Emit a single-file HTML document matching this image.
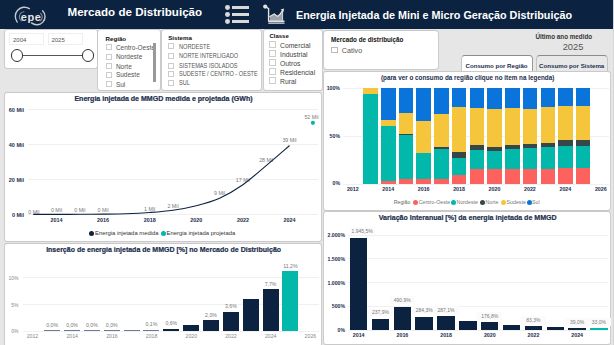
<!DOCTYPE html>
<html><head><meta charset="utf-8"><style>
html,body{margin:0;padding:0;}
body{width:614px;height:345px;overflow:hidden;position:relative;background:#e6e6e6;font-family:"Liberation Sans", sans-serif;}
</style></head><body>
<div style="position:absolute;left:612.60px;top:0.00px;width:1.40px;height:345.00px;background:#d6d6d6;"></div>
<div style="position:absolute;left:0.00px;top:0.00px;width:612.60px;height:28.50px;background:#0b2341;"></div>
<div style="position:absolute;left:5.00px;top:30.30px;width:91.50px;height:37.70px;background:#fff;border-radius:2px;box-shadow:0 0 0 0.9px #c9c9c9;"></div>
<div style="position:absolute;left:9.40px;top:33.40px;width:34.80px;height:11.90px;background:#fff;border:1px solid #efefef;box-sizing:border-box;"></div>
<div style="position:absolute;left:48.00px;top:33.40px;width:35.20px;height:11.90px;background:#fff;border:1px solid #efefef;box-sizing:border-box;"></div>
<div style="position:absolute;left:13.00px;top:36.66px;font-size:6.0px;line-height:6.0px;font-weight:normal;color:#555;white-space:nowrap;">2004</div>
<div style="position:absolute;left:51.40px;top:36.66px;font-size:6.0px;line-height:6.0px;font-weight:normal;color:#555;white-space:nowrap;">2025</div>
<div style="position:absolute;left:22.00px;top:54.80px;width:61.00px;height:1.20px;background:#555;"></div>
<div style="position:absolute;left:10.80px;top:49.20px;width:12.40px;height:12.40px;background:#fff;border:1px solid #333;border-radius:50%;box-sizing:border-box;"></div>
<div style="position:absolute;left:82.10px;top:49.20px;width:12.40px;height:12.40px;background:#fff;border:1px solid #333;border-radius:50%;box-sizing:border-box;"></div>
<div style="position:absolute;left:98.40px;top:30.20px;width:61.60px;height:59.80px;background:#fff;border-radius:2px;box-shadow:0 0 0 0.9px #c9c9c9;"></div>
<div style="position:absolute;left:105.50px;top:36.16px;font-size:6.2px;line-height:6.2px;font-weight:bold;color:#111;white-space:nowrap;">Região</div>
<div style="position:absolute;left:105.50px;top:44.20px;width:6.20px;height:6.20px;border:0.8px solid #cdcdcd;box-sizing:border-box;background:#fff;"></div>
<div style="position:absolute;left:115.90px;top:44.81px;font-size:6.5px;line-height:6.5px;font-weight:normal;color:#555;white-space:nowrap;width:37px;overflow:hidden;">Centro-Oeste</div>
<div style="position:absolute;left:105.50px;top:53.70px;width:6.20px;height:6.20px;border:0.8px solid #cdcdcd;box-sizing:border-box;background:#fff;"></div>
<div style="position:absolute;left:115.90px;top:54.31px;font-size:6.5px;line-height:6.5px;font-weight:normal;color:#555;white-space:nowrap;width:37px;overflow:hidden;">Nordeste</div>
<div style="position:absolute;left:105.50px;top:62.90px;width:6.20px;height:6.20px;border:0.8px solid #cdcdcd;box-sizing:border-box;background:#fff;"></div>
<div style="position:absolute;left:115.90px;top:63.52px;font-size:6.5px;line-height:6.5px;font-weight:normal;color:#555;white-space:nowrap;width:37px;overflow:hidden;">Norte</div>
<div style="position:absolute;left:105.50px;top:71.60px;width:6.20px;height:6.20px;border:0.8px solid #cdcdcd;box-sizing:border-box;background:#fff;"></div>
<div style="position:absolute;left:115.90px;top:72.22px;font-size:6.5px;line-height:6.5px;font-weight:normal;color:#555;white-space:nowrap;width:37px;overflow:hidden;">Sudeste</div>
<div style="position:absolute;left:105.50px;top:81.10px;width:6.20px;height:6.20px;border:0.8px solid #cdcdcd;box-sizing:border-box;background:#fff;"></div>
<div style="position:absolute;left:115.90px;top:81.72px;font-size:6.5px;line-height:6.5px;font-weight:normal;color:#555;white-space:nowrap;width:37px;overflow:hidden;">Sul</div>
<div style="position:absolute;left:152.70px;top:43.30px;width:3.40px;height:39.00px;background:#999;"></div>
<div style="position:absolute;left:162.10px;top:30.20px;width:99.40px;height:59.80px;background:#fff;border-radius:2px;box-shadow:0 0 0 0.9px #c9c9c9;"></div>
<div style="position:absolute;left:168.20px;top:35.16px;font-size:6.2px;line-height:6.2px;font-weight:bold;color:#111;white-space:nowrap;">Sistema</div>
<div style="position:absolute;left:168.20px;top:43.20px;width:6.20px;height:6.20px;border:0.8px solid #cdcdcd;box-sizing:border-box;background:#fff;"></div>
<div style="position:absolute;left:178.70px;top:43.77px;font-size:6.6px;line-height:6.6px;font-weight:normal;color:#555;white-space:nowrap;transform:scaleX(0.85);transform-origin:0 50%;">NORDESTE</div>
<div style="position:absolute;left:168.20px;top:52.70px;width:6.20px;height:6.20px;border:0.8px solid #cdcdcd;box-sizing:border-box;background:#fff;"></div>
<div style="position:absolute;left:178.70px;top:53.27px;font-size:6.6px;line-height:6.6px;font-weight:normal;color:#555;white-space:nowrap;transform:scaleX(0.85);transform-origin:0 50%;">NORTE INTERLIGADO</div>
<div style="position:absolute;left:168.20px;top:62.50px;width:6.20px;height:6.20px;border:0.8px solid #cdcdcd;box-sizing:border-box;background:#fff;"></div>
<div style="position:absolute;left:178.70px;top:63.07px;font-size:6.6px;line-height:6.6px;font-weight:normal;color:#555;white-space:nowrap;transform:scaleX(0.85);transform-origin:0 50%;">SISTEMAS ISOLADOS</div>
<div style="position:absolute;left:168.20px;top:70.60px;width:6.20px;height:6.20px;border:0.8px solid #cdcdcd;box-sizing:border-box;background:#fff;"></div>
<div style="position:absolute;left:178.70px;top:71.17px;font-size:6.6px;line-height:6.6px;font-weight:normal;color:#555;white-space:nowrap;transform:scaleX(0.85);transform-origin:0 50%;">SUDESTE / CENTRO - OESTE</div>
<div style="position:absolute;left:168.20px;top:79.70px;width:6.20px;height:6.20px;border:0.8px solid #cdcdcd;box-sizing:border-box;background:#fff;"></div>
<div style="position:absolute;left:178.70px;top:80.27px;font-size:6.6px;line-height:6.6px;font-weight:normal;color:#555;white-space:nowrap;transform:scaleX(0.85);transform-origin:0 50%;">SUL</div>
<div style="position:absolute;left:264.10px;top:30.20px;width:57.50px;height:60.20px;background:#fff;border-radius:2px;box-shadow:0 0 0 0.9px #c9c9c9;"></div>
<div style="position:absolute;left:269.40px;top:32.86px;font-size:6.0px;line-height:6.0px;font-weight:bold;color:#111;white-space:nowrap;">Classe</div>
<div style="position:absolute;left:269.40px;top:41.10px;width:7.00px;height:7.00px;border:0.8px solid #cdcdcd;box-sizing:border-box;background:#fff;"></div>
<div style="position:absolute;left:280.00px;top:41.97px;font-size:6.8px;line-height:6.8px;font-weight:normal;color:#444;white-space:nowrap;transform:translateY(0.6px);">Comercial</div>
<div style="position:absolute;left:269.40px;top:50.20px;width:7.00px;height:7.00px;border:0.8px solid #cdcdcd;box-sizing:border-box;background:#fff;"></div>
<div style="position:absolute;left:280.00px;top:51.07px;font-size:6.8px;line-height:6.8px;font-weight:normal;color:#444;white-space:nowrap;transform:translateY(0.6px);">Industrial</div>
<div style="position:absolute;left:269.40px;top:59.00px;width:7.00px;height:7.00px;border:0.8px solid #cdcdcd;box-sizing:border-box;background:#fff;"></div>
<div style="position:absolute;left:280.00px;top:59.87px;font-size:6.8px;line-height:6.8px;font-weight:normal;color:#444;white-space:nowrap;transform:translateY(0.6px);">Outros</div>
<div style="position:absolute;left:269.40px;top:68.10px;width:7.00px;height:7.00px;border:0.8px solid #cdcdcd;box-sizing:border-box;background:#fff;"></div>
<div style="position:absolute;left:280.00px;top:68.97px;font-size:6.8px;line-height:6.8px;font-weight:normal;color:#444;white-space:nowrap;transform:translateY(0.6px);">Residencial</div>
<div style="position:absolute;left:269.40px;top:77.00px;width:7.00px;height:7.00px;border:0.8px solid #cdcdcd;box-sizing:border-box;background:#fff;"></div>
<div style="position:absolute;left:280.00px;top:77.87px;font-size:6.8px;line-height:6.8px;font-weight:normal;color:#444;white-space:nowrap;transform:translateY(0.6px);">Rural</div>
<div style="position:absolute;left:323.60px;top:31.40px;width:114.20px;height:38.10px;background:#fff;border-radius:3px;box-shadow:0 0 0 0.9px #c9c9c9;"></div>
<div style="position:absolute;left:331.00px;top:36.71px;font-size:6.3px;line-height:6.3px;font-weight:bold;color:#111;white-space:nowrap;">Mercado de distribuição</div>
<div style="position:absolute;left:331.00px;top:46.80px;width:7.00px;height:6.20px;border:0.8px solid #bbb;box-sizing:border-box;background:#fff;"></div>
<div style="position:absolute;left:341.80px;top:46.67px;font-size:7.2px;line-height:7.2px;font-weight:normal;color:#555;white-space:nowrap;">Cativo</div>
<div style="position:absolute;left:263.80px;width:600px;top:33.71px;font-size:6.3px;line-height:6.3px;font-weight:bold;color:#333;white-space:nowrap;text-align:center;">Último ano medido</div>
<div style="position:absolute;left:273.00px;width:600px;top:43.34px;font-size:9.3px;line-height:9.3px;font-weight:normal;color:#555;white-space:nowrap;text-align:center;">2025</div>
<div style="position:absolute;left:535.90px;top:55.30px;width:72.40px;height:17.70px;background:#e8e8e8;border:1px solid #c4c4c4;border-top-color:#8c8c8c;border-bottom:none;border-radius:4px 4px 0 0;box-sizing:border-box;"></div>
<div style="position:absolute;left:460.90px;top:55.20px;width:72.50px;height:17.80px;background:#fff;border:1px solid #c4c4c4;border-top-color:#8c8c8c;border-right-color:#9a9a9a;border-bottom:none;border-radius:4px 4px 0 0;box-sizing:border-box;"></div>
<div style="position:absolute;left:196.50px;width:600px;top:63.09px;font-size:6.15px;line-height:6.15px;font-weight:bold;color:#1c2e4d;white-space:nowrap;text-align:center;">Consumo por Região</div>
<div style="position:absolute;left:271.70px;width:600px;top:63.09px;font-size:6.15px;line-height:6.15px;font-weight:bold;color:#1c2e4d;white-space:nowrap;text-align:center;">Consumo por Sistema</div>
<div style="position:absolute;left:323.60px;top:71.60px;width:286.30px;height:138.30px;background:#fff;border-radius:2px;box-shadow:0 0 0 0.9px #c9c9c9;"></div>
<div style="position:absolute;left:167.60px;width:600px;top:74.50px;font-size:6.33px;line-height:6.33px;font-weight:bold;color:#1c2e4d;white-space:nowrap;text-align:center;">(para ver o consumo da região clique no item na legenda)</div>
<div style="position:absolute;left:-260.00px;width:600px;top:85.75px;font-size:5.2px;line-height:5.2px;font-weight:bold;color:#1c2e4d;white-space:nowrap;text-align:right;">100%</div>
<div style="position:absolute;left:343.00px;top:87.90px;width:265.60px;height:0.80px;background:#f0f0f0;"></div>
<div style="position:absolute;left:-260.00px;width:600px;top:133.60px;font-size:5.2px;line-height:5.2px;font-weight:bold;color:#1c2e4d;white-space:nowrap;text-align:right;">50%</div>
<div style="position:absolute;left:343.00px;top:135.75px;width:265.60px;height:0.80px;background:#f0f0f0;"></div>
<div style="position:absolute;left:-260.00px;width:600px;top:181.45px;font-size:5.2px;line-height:5.2px;font-weight:bold;color:#1c2e4d;white-space:nowrap;text-align:right;">0%</div>
<div style="position:absolute;left:343.00px;top:183.60px;width:265.60px;height:0.80px;background:#f0f0f0;"></div>
<div style="position:absolute;left:363.30px;top:88.30px;width:14.50px;height:95.70px;background:#0a74da;"></div>
<div style="position:absolute;left:363.30px;top:88.30px;width:14.50px;height:95.70px;background:#f5c63c;"></div>
<div style="position:absolute;left:363.30px;top:93.60px;width:14.50px;height:90.40px;background:#374649;"></div>
<div style="position:absolute;left:363.30px;top:93.60px;width:14.50px;height:90.40px;background:#01b8aa;"></div>
<div style="position:absolute;left:363.30px;top:184.00px;width:14.50px;height:0.00px;background:#fd625e;"></div>
<div style="position:absolute;left:381.02px;top:88.30px;width:14.50px;height:95.70px;background:#0a74da;"></div>
<div style="position:absolute;left:381.02px;top:120.00px;width:14.50px;height:64.00px;background:#f5c63c;"></div>
<div style="position:absolute;left:381.02px;top:126.20px;width:14.50px;height:57.80px;background:#374649;"></div>
<div style="position:absolute;left:381.02px;top:126.20px;width:14.50px;height:57.80px;background:#01b8aa;"></div>
<div style="position:absolute;left:381.02px;top:180.70px;width:14.50px;height:3.30px;background:#fd625e;"></div>
<div style="position:absolute;left:398.74px;top:88.30px;width:14.50px;height:95.70px;background:#0a74da;"></div>
<div style="position:absolute;left:398.74px;top:112.80px;width:14.50px;height:71.20px;background:#f5c63c;"></div>
<div style="position:absolute;left:398.74px;top:133.50px;width:14.50px;height:50.50px;background:#374649;"></div>
<div style="position:absolute;left:398.74px;top:134.70px;width:14.50px;height:49.30px;background:#01b8aa;"></div>
<div style="position:absolute;left:398.74px;top:179.00px;width:14.50px;height:5.00px;background:#fd625e;"></div>
<div style="position:absolute;left:416.46px;top:88.30px;width:14.50px;height:95.70px;background:#0a74da;"></div>
<div style="position:absolute;left:416.46px;top:120.60px;width:14.50px;height:63.40px;background:#f5c63c;"></div>
<div style="position:absolute;left:416.46px;top:152.90px;width:14.50px;height:31.10px;background:#374649;"></div>
<div style="position:absolute;left:416.46px;top:152.90px;width:14.50px;height:31.10px;background:#01b8aa;"></div>
<div style="position:absolute;left:416.46px;top:178.80px;width:14.50px;height:5.20px;background:#fd625e;"></div>
<div style="position:absolute;left:434.18px;top:88.30px;width:14.50px;height:95.70px;background:#0a74da;"></div>
<div style="position:absolute;left:434.18px;top:113.90px;width:14.50px;height:70.10px;background:#f5c63c;"></div>
<div style="position:absolute;left:434.18px;top:146.80px;width:14.50px;height:37.20px;background:#374649;"></div>
<div style="position:absolute;left:434.18px;top:148.90px;width:14.50px;height:35.10px;background:#01b8aa;"></div>
<div style="position:absolute;left:434.18px;top:178.80px;width:14.50px;height:5.20px;background:#fd625e;"></div>
<div style="position:absolute;left:451.90px;top:88.30px;width:14.50px;height:95.70px;background:#0a74da;"></div>
<div style="position:absolute;left:451.90px;top:106.70px;width:14.50px;height:77.30px;background:#f5c63c;"></div>
<div style="position:absolute;left:451.90px;top:151.90px;width:14.50px;height:32.10px;background:#374649;"></div>
<div style="position:absolute;left:451.90px;top:157.60px;width:14.50px;height:26.40px;background:#01b8aa;"></div>
<div style="position:absolute;left:451.90px;top:175.00px;width:14.50px;height:9.00px;background:#fd625e;"></div>
<div style="position:absolute;left:469.62px;top:88.30px;width:14.50px;height:95.70px;background:#0a74da;"></div>
<div style="position:absolute;left:469.62px;top:108.30px;width:14.50px;height:75.70px;background:#f5c63c;"></div>
<div style="position:absolute;left:469.62px;top:145.40px;width:14.50px;height:38.60px;background:#374649;"></div>
<div style="position:absolute;left:469.62px;top:149.80px;width:14.50px;height:34.20px;background:#01b8aa;"></div>
<div style="position:absolute;left:469.62px;top:168.90px;width:14.50px;height:15.10px;background:#fd625e;"></div>
<div style="position:absolute;left:487.34px;top:88.30px;width:14.50px;height:95.70px;background:#0a74da;"></div>
<div style="position:absolute;left:487.34px;top:109.40px;width:14.50px;height:74.60px;background:#f5c63c;"></div>
<div style="position:absolute;left:487.34px;top:146.80px;width:14.50px;height:37.20px;background:#374649;"></div>
<div style="position:absolute;left:487.34px;top:151.00px;width:14.50px;height:33.00px;background:#01b8aa;"></div>
<div style="position:absolute;left:487.34px;top:168.90px;width:14.50px;height:15.10px;background:#fd625e;"></div>
<div style="position:absolute;left:505.06px;top:88.30px;width:14.50px;height:95.70px;background:#0a74da;"></div>
<div style="position:absolute;left:505.06px;top:108.30px;width:14.50px;height:75.70px;background:#f5c63c;"></div>
<div style="position:absolute;left:505.06px;top:144.90px;width:14.50px;height:39.10px;background:#374649;"></div>
<div style="position:absolute;left:505.06px;top:149.30px;width:14.50px;height:34.70px;background:#01b8aa;"></div>
<div style="position:absolute;left:505.06px;top:168.90px;width:14.50px;height:15.10px;background:#fd625e;"></div>
<div style="position:absolute;left:522.78px;top:88.30px;width:14.50px;height:95.70px;background:#0a74da;"></div>
<div style="position:absolute;left:522.78px;top:109.40px;width:14.50px;height:74.60px;background:#f5c63c;"></div>
<div style="position:absolute;left:522.78px;top:144.00px;width:14.50px;height:40.00px;background:#374649;"></div>
<div style="position:absolute;left:522.78px;top:148.40px;width:14.50px;height:35.60px;background:#01b8aa;"></div>
<div style="position:absolute;left:522.78px;top:168.90px;width:14.50px;height:15.10px;background:#fd625e;"></div>
<div style="position:absolute;left:540.50px;top:88.30px;width:14.50px;height:95.70px;background:#0a74da;"></div>
<div style="position:absolute;left:540.50px;top:107.20px;width:14.50px;height:76.80px;background:#f5c63c;"></div>
<div style="position:absolute;left:540.50px;top:142.50px;width:14.50px;height:41.50px;background:#374649;"></div>
<div style="position:absolute;left:540.50px;top:147.20px;width:14.50px;height:36.80px;background:#01b8aa;"></div>
<div style="position:absolute;left:540.50px;top:169.10px;width:14.50px;height:14.90px;background:#fd625e;"></div>
<div style="position:absolute;left:558.22px;top:88.30px;width:14.50px;height:95.70px;background:#0a74da;"></div>
<div style="position:absolute;left:558.22px;top:105.90px;width:14.50px;height:78.10px;background:#f5c63c;"></div>
<div style="position:absolute;left:558.22px;top:140.20px;width:14.50px;height:43.80px;background:#374649;"></div>
<div style="position:absolute;left:558.22px;top:146.00px;width:14.50px;height:38.00px;background:#01b8aa;"></div>
<div style="position:absolute;left:558.22px;top:168.40px;width:14.50px;height:15.60px;background:#fd625e;"></div>
<div style="position:absolute;left:575.94px;top:88.30px;width:14.50px;height:95.70px;background:#0a74da;"></div>
<div style="position:absolute;left:575.94px;top:105.90px;width:14.50px;height:78.10px;background:#f5c63c;"></div>
<div style="position:absolute;left:575.94px;top:139.60px;width:14.50px;height:44.40px;background:#374649;"></div>
<div style="position:absolute;left:575.94px;top:145.90px;width:14.50px;height:38.10px;background:#01b8aa;"></div>
<div style="position:absolute;left:575.94px;top:168.10px;width:14.50px;height:15.90px;background:#fd625e;"></div>
<div style="position:absolute;left:52.80px;width:600px;top:186.60px;font-size:5.3px;line-height:5.3px;font-weight:bold;color:#1c2e4d;white-space:nowrap;text-align:center;">2012</div>
<div style="position:absolute;left:88.23px;width:600px;top:186.60px;font-size:5.3px;line-height:5.3px;font-weight:bold;color:#1c2e4d;white-space:nowrap;text-align:center;">2014</div>
<div style="position:absolute;left:123.66px;width:600px;top:186.60px;font-size:5.3px;line-height:5.3px;font-weight:bold;color:#1c2e4d;white-space:nowrap;text-align:center;">2016</div>
<div style="position:absolute;left:159.09px;width:600px;top:186.60px;font-size:5.3px;line-height:5.3px;font-weight:bold;color:#1c2e4d;white-space:nowrap;text-align:center;">2018</div>
<div style="position:absolute;left:194.52px;width:600px;top:186.60px;font-size:5.3px;line-height:5.3px;font-weight:bold;color:#1c2e4d;white-space:nowrap;text-align:center;">2020</div>
<div style="position:absolute;left:229.95px;width:600px;top:186.60px;font-size:5.3px;line-height:5.3px;font-weight:bold;color:#1c2e4d;white-space:nowrap;text-align:center;">2022</div>
<div style="position:absolute;left:265.38px;width:600px;top:186.60px;font-size:5.3px;line-height:5.3px;font-weight:bold;color:#1c2e4d;white-space:nowrap;text-align:center;">2024</div>
<div style="position:absolute;left:300.81px;width:600px;top:186.60px;font-size:5.3px;line-height:5.3px;font-weight:bold;color:#1c2e4d;white-space:nowrap;text-align:center;">2026</div>
<div style="position:absolute;left:393.70px;top:200.43px;font-size:5.25px;line-height:5.25px;font-weight:normal;color:#666;white-space:nowrap;">Região</div>
<div style="position:absolute;left:413.10px;top:199.70px;width:5.00px;height:5.00px;background:#fd625e;border-radius:50%;"></div>
<div style="position:absolute;left:418.70px;top:200.43px;font-size:5.25px;line-height:5.25px;font-weight:normal;color:#777;white-space:nowrap;">Centro-Oeste</div>
<div style="position:absolute;left:451.40px;top:199.70px;width:5.00px;height:5.00px;background:#01b8aa;border-radius:50%;"></div>
<div style="position:absolute;left:456.60px;top:200.43px;font-size:5.25px;line-height:5.25px;font-weight:normal;color:#777;white-space:nowrap;">Nordeste</div>
<div style="position:absolute;left:480.10px;top:199.70px;width:5.00px;height:5.00px;background:#374649;border-radius:50%;"></div>
<div style="position:absolute;left:485.50px;top:200.43px;font-size:5.25px;line-height:5.25px;font-weight:normal;color:#777;white-space:nowrap;">Norte</div>
<div style="position:absolute;left:501.20px;top:199.70px;width:5.00px;height:5.00px;background:#f5c63c;border-radius:50%;"></div>
<div style="position:absolute;left:506.60px;top:200.43px;font-size:5.25px;line-height:5.25px;font-weight:normal;color:#777;white-space:nowrap;">Sudeste</div>
<div style="position:absolute;left:526.90px;top:199.70px;width:5.00px;height:5.00px;background:#0a74da;border-radius:50%;"></div>
<div style="position:absolute;left:532.00px;top:200.43px;font-size:5.25px;line-height:5.25px;font-weight:normal;color:#777;white-space:nowrap;">Sul</div>
<div style="position:absolute;left:5.00px;top:92.50px;width:316.30px;height:148.90px;background:#fff;border-radius:2px;box-shadow:0 0 0 0.9px #c9c9c9;"></div>
<div style="position:absolute;left:-136.50px;width:600px;top:95.15px;font-size:7.05px;line-height:7.05px;font-weight:bold;color:#1c2e4d;white-space:nowrap;text-align:center;-webkit-text-stroke:0.2px #1c2e4d;">Energia injetada de MMGD medida e projetada (GWh)</div>
<div style="position:absolute;left:-575.90px;width:600px;top:108.11px;font-size:5.5px;line-height:5.5px;font-weight:bold;color:#1c2e4d;white-space:nowrap;text-align:right;">60 Mil</div>
<div style="position:absolute;left:28.40px;top:109.30px;width:289.30px;height:0.80px;background:#efefef;"></div>
<div style="position:absolute;left:-575.90px;width:600px;top:142.97px;font-size:5.5px;line-height:5.5px;font-weight:bold;color:#1c2e4d;white-space:nowrap;text-align:right;">40 Mil</div>
<div style="position:absolute;left:28.40px;top:144.17px;width:289.30px;height:0.80px;background:#efefef;"></div>
<div style="position:absolute;left:-575.90px;width:600px;top:177.84px;font-size:5.5px;line-height:5.5px;font-weight:bold;color:#1c2e4d;white-space:nowrap;text-align:right;">20 Mil</div>
<div style="position:absolute;left:28.40px;top:179.03px;width:289.30px;height:0.80px;background:#efefef;"></div>
<div style="position:absolute;left:-575.90px;width:600px;top:212.71px;font-size:5.5px;line-height:5.5px;font-weight:bold;color:#1c2e4d;white-space:nowrap;text-align:right;">0 Mil</div>
<div style="position:absolute;left:28.40px;top:213.90px;width:289.30px;height:0.80px;background:#efefef;"></div>
<div style="position:absolute;left:-243.50px;width:600px;top:217.55px;font-size:5.4px;line-height:5.4px;font-weight:bold;color:#1c2e4d;white-space:nowrap;text-align:center;">2014</div>
<div style="position:absolute;left:-196.90px;width:600px;top:217.55px;font-size:5.4px;line-height:5.4px;font-weight:bold;color:#1c2e4d;white-space:nowrap;text-align:center;">2016</div>
<div style="position:absolute;left:-150.30px;width:600px;top:217.55px;font-size:5.4px;line-height:5.4px;font-weight:bold;color:#1c2e4d;white-space:nowrap;text-align:center;">2018</div>
<div style="position:absolute;left:-103.70px;width:600px;top:217.55px;font-size:5.4px;line-height:5.4px;font-weight:bold;color:#1c2e4d;white-space:nowrap;text-align:center;">2020</div>
<div style="position:absolute;left:-57.10px;width:600px;top:217.55px;font-size:5.4px;line-height:5.4px;font-weight:bold;color:#1c2e4d;white-space:nowrap;text-align:center;">2022</div>
<div style="position:absolute;left:-10.50px;width:600px;top:217.55px;font-size:5.4px;line-height:5.4px;font-weight:bold;color:#1c2e4d;white-space:nowrap;text-align:center;">2024</div>
<div style="position:absolute;left:-266.20px;width:600px;top:210.30px;font-size:5.3px;line-height:5.3px;font-weight:normal;color:#777;white-space:nowrap;text-align:center;">0 Mil</div>
<div style="position:absolute;left:-243.50px;width:600px;top:207.50px;font-size:5.3px;line-height:5.3px;font-weight:normal;color:#777;white-space:nowrap;text-align:center;">0 Mil</div>
<div style="position:absolute;left:-220.20px;width:600px;top:207.50px;font-size:5.3px;line-height:5.3px;font-weight:normal;color:#777;white-space:nowrap;text-align:center;">0 Mil</div>
<div style="position:absolute;left:-196.90px;width:600px;top:207.50px;font-size:5.3px;line-height:5.3px;font-weight:normal;color:#777;white-space:nowrap;text-align:center;">0 Mil</div>
<div style="position:absolute;left:-150.30px;width:600px;top:206.70px;font-size:5.3px;line-height:5.3px;font-weight:normal;color:#777;white-space:nowrap;text-align:center;">1 Mil</div>
<div style="position:absolute;left:-127.00px;width:600px;top:204.40px;font-size:5.3px;line-height:5.3px;font-weight:normal;color:#777;white-space:nowrap;text-align:center;">2 Mil</div>
<div style="position:absolute;left:-80.40px;width:600px;top:191.30px;font-size:5.3px;line-height:5.3px;font-weight:normal;color:#777;white-space:nowrap;text-align:center;">9 Mil</div>
<div style="position:absolute;left:-57.10px;width:600px;top:178.30px;font-size:5.3px;line-height:5.3px;font-weight:normal;color:#777;white-space:nowrap;text-align:center;">17 Mil</div>
<div style="position:absolute;left:-33.80px;width:600px;top:158.30px;font-size:5.3px;line-height:5.3px;font-weight:normal;color:#777;white-space:nowrap;text-align:center;">28 Mil</div>
<div style="position:absolute;left:-10.50px;width:600px;top:138.20px;font-size:5.3px;line-height:5.3px;font-weight:normal;color:#777;white-space:nowrap;text-align:center;">39 Mil</div>
<div style="position:absolute;left:11.50px;width:600px;top:115.30px;font-size:5.3px;line-height:5.3px;font-weight:normal;color:#777;white-space:nowrap;text-align:center;">52 Mil</div>
<svg style="position:absolute;left:0;top:0" width="614" height="345"><path d="M33.20 214.40 C37.08 214.40 48.73 214.41 56.50 214.40 C64.27 214.39 72.03 214.36 79.80 214.31 C87.57 214.27 95.33 214.24 103.10 214.14 C110.87 214.04 118.63 213.98 126.40 213.70 C134.17 213.43 141.93 213.06 149.70 212.48 C157.47 211.90 165.23 211.35 173.00 210.22 C180.77 209.08 188.53 207.69 196.30 205.68 C204.07 203.68 211.83 201.67 219.60 198.19 C227.37 194.70 235.13 190.20 242.90 184.76 C250.67 179.33 258.43 172.12 266.20 165.59 C273.97 159.05 285.62 148.88 289.50 145.54" fill="none" stroke="#0b2341" stroke-width="1.1" stroke-linejoin="round"/><circle cx="312.9" cy="122.8" r="2.1" fill="#01b8aa"/></svg>
<div style="position:absolute;left:89.30px;top:230.90px;width:5.00px;height:5.00px;background:#0b2341;border-radius:50%;"></div>
<div style="position:absolute;left:95.10px;top:230.61px;font-size:5.9px;line-height:5.9px;font-weight:normal;color:#333;white-space:nowrap;">Energia injetada medida</div>
<div style="position:absolute;left:161.20px;top:230.90px;width:5.00px;height:5.00px;background:#01b8aa;border-radius:50%;"></div>
<div style="position:absolute;left:166.50px;top:230.61px;font-size:5.9px;line-height:5.9px;font-weight:normal;color:#333;white-space:nowrap;">Energia injetada projetada</div>
<div style="position:absolute;left:5.00px;top:243.60px;width:315.60px;height:102.40px;background:#fff;border-radius:2px;box-shadow:0 0 0 0.9px #c9c9c9;"></div>
<div style="position:absolute;left:-136.40px;width:600px;top:246.27px;font-size:7.0px;line-height:7.0px;font-weight:bold;color:#1c2e4d;white-space:nowrap;text-align:center;-webkit-text-stroke:0.2px #1c2e4d;">Inserção de energia injetada de MMGD [%] no Mercado de Distribuição</div>
<div style="position:absolute;left:-581.50px;width:600px;top:275.85px;font-size:5.0px;line-height:5.0px;font-weight:normal;color:#888;white-space:nowrap;text-align:right;">10%</div>
<div style="position:absolute;left:23.20px;top:277.00px;width:295.40px;height:0.80px;background:#f0f0f0;"></div>
<div style="position:absolute;left:-581.50px;width:600px;top:302.65px;font-size:5.0px;line-height:5.0px;font-weight:normal;color:#888;white-space:nowrap;text-align:right;">5%</div>
<div style="position:absolute;left:23.20px;top:303.80px;width:295.40px;height:0.80px;background:#f0f0f0;"></div>
<div style="position:absolute;left:-581.50px;width:600px;top:329.45px;font-size:5.0px;line-height:5.0px;font-weight:normal;color:#888;white-space:nowrap;text-align:right;">0%</div>
<div style="position:absolute;left:23.20px;top:330.60px;width:295.40px;height:0.80px;background:#f0f0f0;"></div>
<div style="position:absolute;left:44.20px;top:329.93px;width:16.00px;height:1.07px;background:#6b7b95;"></div>
<div style="position:absolute;left:-247.80px;width:600px;top:322.68px;font-size:5.2px;line-height:5.2px;font-weight:normal;color:#777;white-space:nowrap;text-align:center;">0,0%</div>
<div style="position:absolute;left:64.05px;top:329.93px;width:16.00px;height:1.07px;background:#6b7b95;"></div>
<div style="position:absolute;left:-227.95px;width:600px;top:322.68px;font-size:5.2px;line-height:5.2px;font-weight:normal;color:#777;white-space:nowrap;text-align:center;">0,0%</div>
<div style="position:absolute;left:83.90px;top:329.93px;width:16.00px;height:1.07px;background:#6b7b95;"></div>
<div style="position:absolute;left:-208.10px;width:600px;top:322.68px;font-size:5.2px;line-height:5.2px;font-weight:normal;color:#777;white-space:nowrap;text-align:center;">0,0%</div>
<div style="position:absolute;left:103.75px;top:329.93px;width:16.00px;height:1.07px;background:#6b7b95;"></div>
<div style="position:absolute;left:-188.25px;width:600px;top:322.68px;font-size:5.2px;line-height:5.2px;font-weight:normal;color:#777;white-space:nowrap;text-align:center;">0,0%</div>
<div style="position:absolute;left:123.60px;top:329.93px;width:16.00px;height:1.07px;background:#6b7b95;"></div>
<div style="position:absolute;left:143.45px;top:329.66px;width:16.00px;height:1.34px;background:#6b7b95;"></div>
<div style="position:absolute;left:-148.55px;width:600px;top:322.41px;font-size:5.2px;line-height:5.2px;font-weight:normal;color:#777;white-space:nowrap;text-align:center;">0,1%</div>
<div style="position:absolute;left:163.30px;top:328.59px;width:16.00px;height:2.41px;background:#0b2341;"></div>
<div style="position:absolute;left:-128.70px;width:600px;top:321.34px;font-size:5.2px;line-height:5.2px;font-weight:normal;color:#777;white-space:nowrap;text-align:center;">0,6%</div>
<div style="position:absolute;left:183.15px;top:325.10px;width:16.00px;height:5.90px;background:#0b2341;"></div>
<div style="position:absolute;left:203.00px;top:319.74px;width:16.00px;height:11.26px;background:#0b2341;"></div>
<div style="position:absolute;left:-89.00px;width:600px;top:312.50px;font-size:5.2px;line-height:5.2px;font-weight:normal;color:#777;white-space:nowrap;text-align:center;">2,0%</div>
<div style="position:absolute;left:222.85px;top:311.70px;width:16.00px;height:19.30px;background:#0b2341;"></div>
<div style="position:absolute;left:-69.15px;width:600px;top:304.46px;font-size:5.2px;line-height:5.2px;font-weight:normal;color:#777;white-space:nowrap;text-align:center;">3,6%</div>
<div style="position:absolute;left:242.70px;top:299.38px;width:16.00px;height:31.62px;background:#0b2341;"></div>
<div style="position:absolute;left:262.55px;top:289.19px;width:16.00px;height:41.81px;background:#0b2341;"></div>
<div style="position:absolute;left:-29.45px;width:600px;top:281.94px;font-size:5.2px;line-height:5.2px;font-weight:normal;color:#777;white-space:nowrap;text-align:center;">7,7%</div>
<div style="position:absolute;left:282.40px;top:270.97px;width:16.00px;height:60.03px;background:#01b8aa;"></div>
<div style="position:absolute;left:-9.60px;width:600px;top:263.72px;font-size:5.2px;line-height:5.2px;font-weight:normal;color:#777;white-space:nowrap;text-align:center;">11,2%</div>
<div style="position:absolute;left:-267.50px;width:600px;top:333.65px;font-size:5.2px;line-height:5.2px;font-weight:normal;color:#888;white-space:nowrap;text-align:center;">2012</div>
<div style="position:absolute;left:-227.80px;width:600px;top:333.65px;font-size:5.2px;line-height:5.2px;font-weight:normal;color:#888;white-space:nowrap;text-align:center;">2014</div>
<div style="position:absolute;left:-188.10px;width:600px;top:333.65px;font-size:5.2px;line-height:5.2px;font-weight:normal;color:#888;white-space:nowrap;text-align:center;">2016</div>
<div style="position:absolute;left:-148.40px;width:600px;top:333.65px;font-size:5.2px;line-height:5.2px;font-weight:normal;color:#888;white-space:nowrap;text-align:center;">2018</div>
<div style="position:absolute;left:-108.70px;width:600px;top:333.65px;font-size:5.2px;line-height:5.2px;font-weight:normal;color:#888;white-space:nowrap;text-align:center;">2020</div>
<div style="position:absolute;left:-69.00px;width:600px;top:333.65px;font-size:5.2px;line-height:5.2px;font-weight:normal;color:#888;white-space:nowrap;text-align:center;">2022</div>
<div style="position:absolute;left:-29.30px;width:600px;top:333.65px;font-size:5.2px;line-height:5.2px;font-weight:normal;color:#888;white-space:nowrap;text-align:center;">2024</div>
<div style="position:absolute;left:10.40px;width:600px;top:333.65px;font-size:5.2px;line-height:5.2px;font-weight:normal;color:#888;white-space:nowrap;text-align:center;">2026</div>
<div style="position:absolute;left:323.60px;top:211.60px;width:286.30px;height:132.80px;background:#fff;border-radius:2px;box-shadow:0 0 0 0.9px #c9c9c9;"></div>
<div style="position:absolute;left:167.70px;width:600px;top:213.75px;font-size:7.05px;line-height:7.05px;font-weight:bold;color:#1c2e4d;white-space:nowrap;text-align:center;-webkit-text-stroke:0.2px #1c2e4d;">Variação Interanual [%] da energia injetada de MMGD</div>
<div style="position:absolute;left:-254.90px;width:600px;top:233.15px;font-size:5.2px;line-height:5.2px;font-weight:bold;color:#1c2e4d;white-space:nowrap;text-align:right;">2.000%</div>
<div style="position:absolute;left:348.00px;top:234.60px;width:259.90px;height:0.80px;background:#f0f0f0;"></div>
<div style="position:absolute;left:-254.90px;width:600px;top:256.90px;font-size:5.2px;line-height:5.2px;font-weight:bold;color:#1c2e4d;white-space:nowrap;text-align:right;">1.500%</div>
<div style="position:absolute;left:348.00px;top:258.35px;width:259.90px;height:0.80px;background:#f0f0f0;"></div>
<div style="position:absolute;left:-254.90px;width:600px;top:280.65px;font-size:5.2px;line-height:5.2px;font-weight:bold;color:#1c2e4d;white-space:nowrap;text-align:right;">1.000%</div>
<div style="position:absolute;left:348.00px;top:282.10px;width:259.90px;height:0.80px;background:#f0f0f0;"></div>
<div style="position:absolute;left:-254.90px;width:600px;top:304.40px;font-size:5.2px;line-height:5.2px;font-weight:bold;color:#1c2e4d;white-space:nowrap;text-align:right;">500%</div>
<div style="position:absolute;left:348.00px;top:305.85px;width:259.90px;height:0.80px;background:#f0f0f0;"></div>
<div style="position:absolute;left:-254.90px;width:600px;top:328.15px;font-size:5.2px;line-height:5.2px;font-weight:bold;color:#1c2e4d;white-space:nowrap;text-align:right;">0%</div>
<div style="position:absolute;left:348.00px;top:329.60px;width:259.90px;height:0.80px;background:#f0f0f0;"></div>
<div style="position:absolute;left:349.90px;top:237.59px;width:17.40px;height:92.41px;background:#0b2341;"></div>
<div style="position:absolute;left:349.70px;top:227.39px;width:25.00px;height:7.80px;background:#fbfbfb;"></div>
<div style="position:absolute;left:62.20px;width:600px;top:229.34px;font-size:5.0px;line-height:5.0px;font-weight:normal;color:#777;white-space:nowrap;text-align:center;">1.945,5%</div>
<div style="position:absolute;left:371.75px;top:318.70px;width:17.40px;height:11.30px;background:#0b2341;"></div>
<div style="position:absolute;left:367.95px;top:308.50px;width:25.00px;height:7.80px;background:#fbfbfb;"></div>
<div style="position:absolute;left:80.45px;width:600px;top:310.45px;font-size:5.0px;line-height:5.0px;font-weight:normal;color:#777;white-space:nowrap;text-align:center;">237,9%</div>
<div style="position:absolute;left:393.60px;top:306.68px;width:17.40px;height:23.32px;background:#0b2341;"></div>
<div style="position:absolute;left:389.80px;top:296.48px;width:25.00px;height:7.80px;background:#fbfbfb;"></div>
<div style="position:absolute;left:102.30px;width:600px;top:298.43px;font-size:5.0px;line-height:5.0px;font-weight:normal;color:#777;white-space:nowrap;text-align:center;">490,9%</div>
<div style="position:absolute;left:415.45px;top:316.50px;width:17.40px;height:13.50px;background:#0b2341;"></div>
<div style="position:absolute;left:411.65px;top:306.30px;width:25.00px;height:7.80px;background:#fbfbfb;"></div>
<div style="position:absolute;left:124.15px;width:600px;top:308.25px;font-size:5.0px;line-height:5.0px;font-weight:normal;color:#777;white-space:nowrap;text-align:center;">284,3%</div>
<div style="position:absolute;left:437.30px;top:316.36px;width:17.40px;height:13.64px;background:#0b2341;"></div>
<div style="position:absolute;left:433.50px;top:306.16px;width:25.00px;height:7.80px;background:#fbfbfb;"></div>
<div style="position:absolute;left:146.00px;width:600px;top:308.11px;font-size:5.0px;line-height:5.0px;font-weight:normal;color:#777;white-space:nowrap;text-align:center;">287,1%</div>
<div style="position:absolute;left:459.15px;top:321.21px;width:17.40px;height:8.79px;background:#0b2341;"></div>
<div style="position:absolute;left:481.00px;top:322.31px;width:17.40px;height:7.69px;background:#0b2341;"></div>
<div style="position:absolute;left:477.20px;top:312.11px;width:25.00px;height:7.80px;background:#fbfbfb;"></div>
<div style="position:absolute;left:189.70px;width:600px;top:314.06px;font-size:5.0px;line-height:5.0px;font-weight:normal;color:#777;white-space:nowrap;text-align:center;">176,8%</div>
<div style="position:absolute;left:502.85px;top:325.35px;width:17.40px;height:4.65px;background:#0b2341;"></div>
<div style="position:absolute;left:524.70px;top:326.20px;width:17.40px;height:3.80px;background:#0b2341;"></div>
<div style="position:absolute;left:520.90px;top:316.00px;width:25.00px;height:7.80px;background:#fbfbfb;"></div>
<div style="position:absolute;left:233.40px;width:600px;top:317.95px;font-size:5.0px;line-height:5.0px;font-weight:normal;color:#777;white-space:nowrap;text-align:center;">83,3%</div>
<div style="position:absolute;left:546.55px;top:327.15px;width:17.40px;height:2.85px;background:#0b2341;"></div>
<div style="position:absolute;left:568.40px;top:328.15px;width:17.40px;height:1.85px;background:#0b2341;"></div>
<div style="position:absolute;left:564.60px;top:317.95px;width:25.00px;height:7.80px;background:#fbfbfb;"></div>
<div style="position:absolute;left:277.10px;width:600px;top:319.90px;font-size:5.0px;line-height:5.0px;font-weight:normal;color:#777;white-space:nowrap;text-align:center;">39,0%</div>
<div style="position:absolute;left:590.25px;top:328.43px;width:17.40px;height:1.57px;background:#01b8aa;"></div>
<div style="position:absolute;left:586.45px;top:318.23px;width:25.00px;height:7.80px;background:#fbfbfb;"></div>
<div style="position:absolute;left:298.95px;width:600px;top:320.18px;font-size:5.0px;line-height:5.0px;font-weight:normal;color:#777;white-space:nowrap;text-align:center;">33,0%</div>
<div style="position:absolute;left:58.70px;width:600px;top:332.60px;font-size:5.3px;line-height:5.3px;font-weight:bold;color:#1c2e4d;white-space:nowrap;text-align:center;">2014</div>
<div style="position:absolute;left:102.40px;width:600px;top:332.60px;font-size:5.3px;line-height:5.3px;font-weight:bold;color:#1c2e4d;white-space:nowrap;text-align:center;">2016</div>
<div style="position:absolute;left:146.10px;width:600px;top:332.60px;font-size:5.3px;line-height:5.3px;font-weight:bold;color:#1c2e4d;white-space:nowrap;text-align:center;">2018</div>
<div style="position:absolute;left:189.80px;width:600px;top:332.60px;font-size:5.3px;line-height:5.3px;font-weight:bold;color:#1c2e4d;white-space:nowrap;text-align:center;">2020</div>
<div style="position:absolute;left:233.50px;width:600px;top:332.60px;font-size:5.3px;line-height:5.3px;font-weight:bold;color:#1c2e4d;white-space:nowrap;text-align:center;">2022</div>
<div style="position:absolute;left:277.20px;width:600px;top:332.60px;font-size:5.3px;line-height:5.3px;font-weight:bold;color:#1c2e4d;white-space:nowrap;text-align:center;">2024</div>
<div style="position:absolute;left:67.50px;top:6.02px;font-size:11.6px;line-height:11.6px;font-weight:bold;color:#fff;white-space:nowrap;">Mercado de Distribuição</div>
<div style="position:absolute;left:296.00px;top:9.91px;font-size:10.8px;line-height:10.8px;font-weight:bold;color:#fff;white-space:nowrap;">Energia Injetada de Mini e Micro Geração Distribuição</div>
<div style="position:absolute;left:224.80px;top:5.20px;width:4.80px;height:4.80px;background:#d9d9d9;border-radius:50%;"></div>
<div style="position:absolute;left:232.00px;top:6.20px;width:17.00px;height:2.80px;background:#d9d9d9;"></div>
<div style="position:absolute;left:224.80px;top:11.90px;width:4.80px;height:4.80px;background:#d9d9d9;border-radius:50%;"></div>
<div style="position:absolute;left:232.00px;top:12.90px;width:17.00px;height:2.80px;background:#d9d9d9;"></div>
<div style="position:absolute;left:224.80px;top:19.10px;width:4.80px;height:4.80px;background:#d9d9d9;border-radius:50%;"></div>
<div style="position:absolute;left:232.00px;top:20.10px;width:17.00px;height:2.80px;background:#d9d9d9;"></div>
<svg style="position:absolute;left:0;top:0" width="300" height="28">
<path d="M269.8 21 L269.8 16.6 L274.3 13.6 L277.4 16.2 L279.8 14.4 L282.6 10.6 L282.6 21 Z" fill="#d8d8d8" opacity="0.7"/>
<g fill="none" stroke="#e2e2e2" stroke-linecap="round" stroke-linejoin="round">
<path d="M266.2 7.2 L268.6 8.6 L268.6 21.2 L284 21.2" stroke-width="1.4"/>
<path d="M268.8 23.2 L284 23.2" stroke-width="1.3"/>
<path d="M269.8 16.6 L274.3 13.9 L277.4 16.4 L279.8 14.6 L282.6 10.4" stroke-width="1.2"/>
<path d="M282.6 10.6 L282.6 21" stroke-width="0.9"/>
</g>
<circle cx="265.2" cy="6.6" r="2.1" fill="#e2e2e2"/>
<path d="M280.6 9.6 L284 8.6 L283.6 12 Z" fill="#e2e2e2"/>
</svg>
<svg style="position:absolute;left:0;top:0" width="60" height="28"><g fill="none" stroke="#dcdcdc" stroke-linecap="round"><path d="M29.38 8.60 A9.2 9.2 0 0 0 17.25 22.06" stroke-width="1.4" opacity="0.9"/><path d="M23.96 11.82 A5.0 5.0 0 0 0 21.53 20.90" stroke-width="1.1" opacity="0.55"/><path d="M42.60 10.80 A8.2 8.2 0 0 1 31.53 22.88" stroke-width="1.4" opacity="0.9"/><path d="M40.59 13.22 A4.8 4.8 0 0 1 40.25 20.83" stroke-width="1.1" opacity="0.55"/></g></svg>
<div style="position:absolute;left:20.80px;top:11.91px;font-size:11.0px;line-height:11.0px;font-weight:bold;color:#e6e6e6;white-space:nowrap;letter-spacing:0.6px;">epe</div>
</body></html>
